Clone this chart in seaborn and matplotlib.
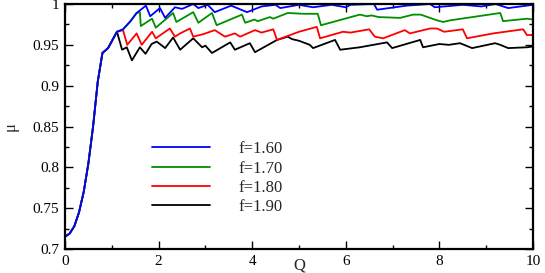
import matplotlib
matplotlib.use("Agg")
import matplotlib.pyplot as plt
from matplotlib.ticker import MultipleLocator, FixedLocator
import pandas as pd
import seaborn as sns

# shared rising part of all four curves
q_rise = [0.0, 0.1, 0.2, 0.3, 0.4, 0.5, 0.6, 0.7, 0.8, 0.92, 1.11]
mu_rise = [0.715, 0.719, 0.728, 0.745, 0.770, 0.805, 0.850, 0.905, 0.940, 0.946, 0.966]

q_160 = [1.24, 1.40, 1.53, 1.73, 1.82, 2.03, 2.14, 2.35, 2.50, 2.74, 2.85, 3.05, 3.20,
         3.55, 3.89, 4.20, 4.50, 4.60, 5.00, 5.30, 5.70, 6.00, 6.10, 6.60, 6.67, 7.30,
         7.80, 7.90, 8.50, 8.90, 9.20, 9.47, 10.0]
mu_160 = [0.969, 0.979, 0.989, 0.998, 0.985, 0.995, 0.983, 0.996, 0.994, 1.000, 0.995,
          0.999, 0.990, 0.998, 0.990, 0.997, 0.999, 0.995, 0.999, 0.996, 0.999, 0.996,
          0.999, 1.000, 0.993, 0.998, 1.000, 0.996, 0.999, 0.997, 1.000, 0.995, 0.999]

q_170 = [1.24, 1.40, 1.53, 1.60, 1.62, 1.86, 1.94, 2.31, 2.38, 2.74, 2.85, 3.14, 3.24,
         3.78, 3.85, 4.05, 4.12, 4.38, 4.45, 4.76, 5.10, 5.40, 5.47, 6.30, 6.45, 6.55,
         6.70, 7.16, 7.44, 7.60, 7.95, 8.08, 8.23, 9.30, 9.36, 9.87, 10.0]
mu_170 = [0.969, 0.979, 0.989, 0.990, 0.973, 0.982, 0.971, 0.989, 0.978, 0.990, 0.977,
          0.989, 0.974, 0.987, 0.977, 0.981, 0.979, 0.984, 0.982, 0.989, 0.988, 0.988,
          0.974, 0.987, 0.985, 0.986, 0.984, 0.983, 0.987, 0.987, 0.980, 0.978, 0.980,
          0.989, 0.979, 0.982, 0.981]

q_180 = [1.24, 1.33, 1.53, 1.64, 1.86, 1.94, 2.24, 2.35, 2.46, 2.67, 2.74, 2.95, 3.20,
         3.42, 3.63, 3.74, 4.06, 4.20, 4.45, 4.53, 5.00, 5.38, 5.45, 5.94, 6.10, 6.30,
         6.50, 6.62, 6.80, 7.26, 7.37, 7.80, 7.95, 8.10, 8.50, 8.59, 9.15, 9.79, 9.87, 10.0]
mu_180 = [0.968, 0.950, 0.964, 0.950, 0.966, 0.958, 0.970, 0.960, 0.964, 0.970, 0.960,
          0.963, 0.968, 0.960, 0.964, 0.960, 0.968, 0.965, 0.969, 0.956, 0.966, 0.972,
          0.958, 0.966, 0.965, 0.967, 0.969, 0.960, 0.958, 0.968, 0.964, 0.970, 0.970,
          0.966, 0.969, 0.958, 0.964, 0.969, 0.962, 0.962]

q_190 = [1.22, 1.32, 1.43, 1.60, 1.72, 1.85, 1.96, 2.14, 2.31, 2.46, 2.74, 2.93, 3.00,
         3.14, 3.53, 3.63, 3.95, 4.06, 4.53, 4.76, 4.85, 5.00, 5.23, 5.30, 5.77, 5.88,
         6.30, 6.88, 6.99, 7.59, 7.65, 8.00, 8.20, 8.44, 8.70, 9.19, 9.30, 9.47, 9.87, 10.0]
mu_190 = [0.944, 0.947, 0.931, 0.947, 0.939, 0.951, 0.954, 0.946, 0.959, 0.944, 0.958,
          0.947, 0.949, 0.940, 0.953, 0.944, 0.952, 0.941, 0.956, 0.960, 0.957, 0.955,
          0.950, 0.946, 0.956, 0.944, 0.947, 0.953, 0.946, 0.956, 0.947, 0.951, 0.950,
          0.952, 0.946, 0.952, 0.950, 0.946, 0.947, 0.948]

labels = ["f=1.60", "f=1.70", "f=1.80", "f=1.90"]
colors = ["#0000ff", "#008f00", "#ff0000", "#000000"]
y_ticks = [0.7, 0.75, 0.8, 0.85, 0.9, 0.95, 1.0]
y_tick_labels = ["0.7", "0.75", "0.8", "0.85", "0.9", "0.95", "1"]

tails = {
    "f=1.60": (q_160, mu_160),
    "f=1.70": (q_170, mu_170),
    "f=1.80": (q_180, mu_180),
    "f=1.90": (q_190, mu_190),
}

frames = []
for lab in labels:
    q, mu = tails[lab]
    frames.append(pd.DataFrame({"Q": q_rise + q, "mu": mu_rise + mu, "f": lab}))
df = pd.concat(frames, ignore_index=True)

sns.set_style("ticks")
plt.rcParams["font.family"] = ["Liberation Serif", "DejaVu Serif"]

fig = plt.figure(figsize=(5.45, 2.73), dpi=100)
ax = fig.add_axes([65 / 545, 24 / 273, 468 / 545, 245 / 273])

handles = {}
# draw back to front so blue sits on top of the shared rise
for lab, col in reversed(list(zip(labels, colors))):
    sub = df[df["f"] == lab]
    sns.lineplot(data=sub, x="Q", y="mu", color=col, lw=1.3, estimator=None,
                 sort=False, ax=ax, legend=False)
    handles[lab] = ax.lines[-1]

ax.set_xlim(0, 10)
ax.set_ylim(0.7, 1.0)
ax.xaxis.set_major_locator(MultipleLocator(2))
ax.xaxis.set_minor_locator(MultipleLocator(1))
ax.yaxis.set_major_locator(FixedLocator(y_ticks))
ax.yaxis.set_minor_locator(MultipleLocator(0.025))
ax.set_yticklabels(y_tick_labels)
ax.tick_params(which="both", direction="in", top=True, right=True, width=1.0,
               labelsize=11, colors="black")
ax.tick_params(which="major", length=6, pad=4)
ax.tick_params(which="minor", length=3)
for s in ax.spines.values():
    s.set_linewidth(1.6)
    s.set_color("black")

ax.set_xlabel("Q", fontsize=12)
ax.xaxis.set_label_coords(0.5, -0.035)
ax.set_ylabel("μ", fontsize=12, labelpad=10)

leg = ax.legend([handles[l] for l in labels], labels, loc="upper left",
                bbox_to_anchor=(0.186, 0.44), frameon=False, fontsize=12,
                handlelength=3.5, handletextpad=1.7, labelspacing=0.2,
                borderpad=0, borderaxespad=0)

fig.savefig("out.png", dpi=100)
